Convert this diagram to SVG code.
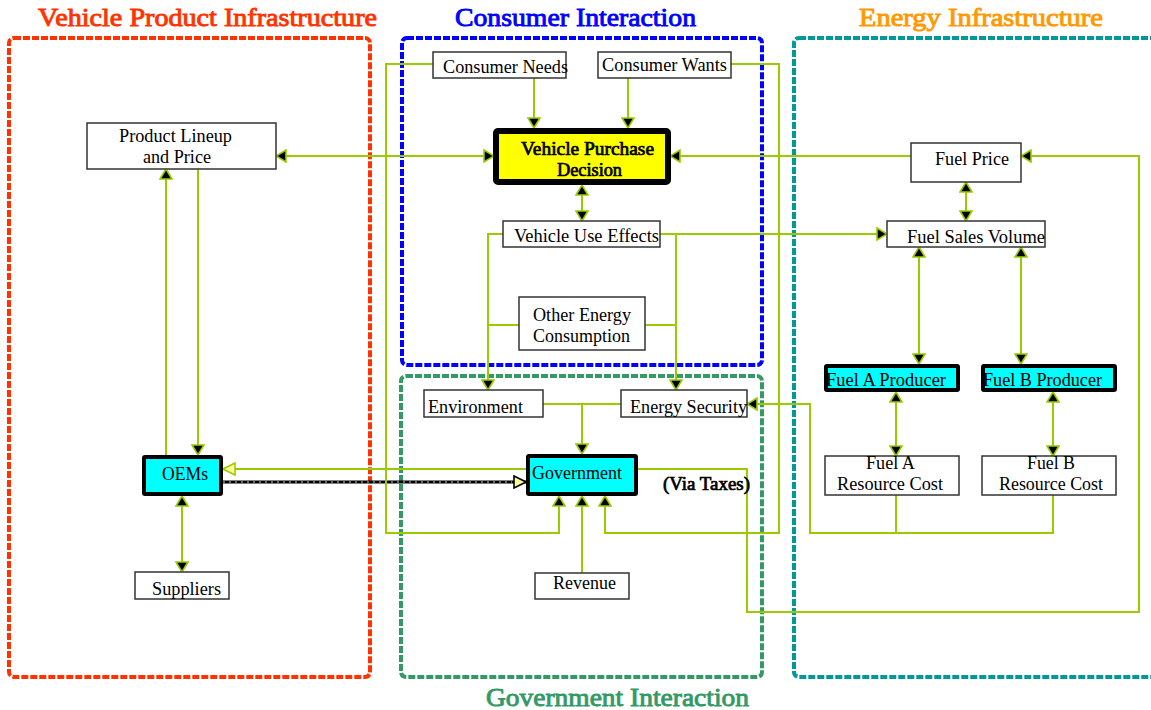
<svg xmlns="http://www.w3.org/2000/svg" width="1151" height="710" viewBox="0 0 1151 710">
  <style>
    .zone { fill: none; stroke-width: 4; stroke-dasharray: 7 2; }
    .title { font-family: "Liberation Serif", "Times New Roman", serif; font-weight: normal; font-size: 26px; stroke-width: 0.9; }
    .box { fill: #ffffff; stroke: #333333; stroke-width: 1.5; }
    .hot { fill: #00ffff; stroke: #000000; stroke-width: 4; }
    .lbl { font-family: "Liberation Serif", "Times New Roman", serif; font-size: 18px; fill: #000000; }
    .bold { stroke: #000000; stroke-width: 0.7; }
    .link { fill: none; stroke: #99cc00; stroke-width: 2; }
    .fwd { marker-end: url(#tip); }
    .both { marker-start: url(#tip); marker-end: url(#tip); }
  </style>
  <defs>
    <marker id="tip" viewBox="0 0 12 14" refX="11" refY="7" markerWidth="12" markerHeight="14" markerUnits="userSpaceOnUse" orient="auto-start-reverse">
      <path d="M1,1 L11,7 L1,13 Z" fill="#000000" stroke="#99cc00" stroke-width="1.6"/>
    </marker>
    <marker id="openTip" viewBox="0 0 14 14" refX="13" refY="7" markerWidth="14" markerHeight="14" markerUnits="userSpaceOnUse" orient="auto">
      <path d="M1,1 L13,7 L1,13 Z" fill="#ffff99" stroke="#99cc00" stroke-width="1.6"/>
    </marker>
    <marker id="openTipDark" viewBox="0 0 14 14" refX="13" refY="7" markerWidth="14" markerHeight="14" markerUnits="userSpaceOnUse" orient="auto">
      <path d="M1,1 L13,7 L1,13 Z" fill="#ffff99" stroke="#000000" stroke-width="1.6"/>
    </marker>
  </defs>

  <!-- zones -->
  <g id="zones">
    <rect class="zone" x="9" y="38" width="361" height="639" rx="5" stroke="#ff3300"/>
    <rect class="zone" x="402" y="38" width="360" height="327" rx="5" stroke="#0000ff"/>
    <rect class="zone" x="401" y="376" width="361" height="301" rx="5" stroke="#339966"/>
    <rect class="zone" x="794" y="38" width="380" height="639" rx="5" stroke="#009999"/>
    <text class="title" x="38" y="26" fill="#ff3300" stroke="#ff3300" textLength="339" lengthAdjust="spacingAndGlyphs">Vehicle Product Infrastructure</text>
    <text class="title" x="455" y="26" fill="#0000ff" stroke="#0000ff" textLength="241" lengthAdjust="spacingAndGlyphs">Consumer Interaction</text>
    <text class="title" x="859" y="26" fill="#ff9900" stroke="#ff9900" textLength="244" lengthAdjust="spacingAndGlyphs">Energy Infrastructure</text>
    <text class="title" x="486" y="706" fill="#339966" stroke="#339966" textLength="263" lengthAdjust="spacingAndGlyphs">Government Interaction</text>
  </g>

  <!-- connectors -->
  <g id="connectors">
    <path class="link both" d="M276,156 H494"/>
    <path class="link fwd" d="M534,78 V128"/>
    <path class="link fwd" d="M628,78 V128"/>
    <path class="link fwd" d="M911,156 H670"/>
    <path class="link both" d="M582,185 V221"/>
    <path class="link fwd" d="M503,234 H488 V390"/>
    <path class="link fwd" d="M660,234 H887"/>
    <path class="link fwd" d="M676,234 V390"/>
    <path class="link" d="M519,325 H488"/>
    <path class="link" d="M645,325 H676"/>
    <path class="link" d="M543,404 H621"/>
    <path class="link fwd" d="M582,404 V454"/>
    <path class="link both" d="M966,182 V221"/>
    <path class="link both" d="M919,247 V364"/>
    <path class="link both" d="M1021,247 V364"/>
    <path class="link both" d="M896,392 V456"/>
    <path class="link both" d="M1053,392 V456"/>
    <path class="link" d="M896,495 V533"/>
    <path class="link fwd" d="M1053,495 V533 H810 V404 H747"/>
    <path class="link fwd" d="M638,469 H747 V612 H1139 V156 H1021"/>
    <path class="link" d="M526,469 H223" marker-end="url(#openTip)"/>
    <path d="M223,482 H526" fill="none" stroke="#000000" stroke-width="3" marker-end="url(#openTipDark)"/>
    <path d="M223,482 H512" fill="none" stroke="#ffffff" stroke-width="0.8" stroke-dasharray="2 4"/>
    <path class="link both" d="M182,496 V572"/>
    <path class="link fwd" d="M198,169 V455"/>
    <path class="link fwd" d="M166,455 V169"/>
    <path class="link fwd" d="M433,64 H386 V533 H559 V496"/>
    <path class="link fwd" d="M731,64 H779 V533 H605 V496"/>
    <path class="link fwd" d="M582,573 V496"/>
  </g>

  <!-- consumer interaction -->
  <g id="consumer-needs">
    <rect class="box" x="433" y="52" width="133" height="26"/>
    <text class="lbl" x="443" y="73" textLength="125" lengthAdjust="spacingAndGlyphs">Consumer Needs</text>
  </g>
  <g id="consumer-wants">
    <rect class="box" x="598" y="52" width="133" height="26"/>
    <text class="lbl" x="602" y="71" textLength="125" lengthAdjust="spacingAndGlyphs">Consumer Wants</text>
  </g>
  <g id="vehicle-purchase-decision">
    <rect x="496" y="131" width="172" height="51" rx="2" fill="#ffff00" stroke="#000000" stroke-width="6"/>
    <text class="lbl bold" x="521" y="155" textLength="133" lengthAdjust="spacingAndGlyphs">Vehicle Purchase</text>
    <text class="lbl bold" x="557" y="176" textLength="65" lengthAdjust="spacingAndGlyphs">Decision</text>
  </g>
  <g id="vehicle-use-effects">
    <rect class="box" x="503" y="221" width="157" height="26"/>
    <text class="lbl" x="514" y="242" textLength="145" lengthAdjust="spacingAndGlyphs">Vehicle Use Effects</text>
  </g>
  <g id="other-energy-consumption">
    <rect class="box" x="519" y="297" width="126" height="53"/>
    <text class="lbl" x="533" y="321" textLength="98" lengthAdjust="spacingAndGlyphs">Other Energy</text>
    <text class="lbl" x="533" y="342" textLength="97" lengthAdjust="spacingAndGlyphs">Consumption</text>
  </g>

  <!-- vehicle product infrastructure -->
  <g id="product-lineup">
    <rect class="box" x="87" y="123" width="189" height="46"/>
    <text class="lbl" x="119" y="142" textLength="113" lengthAdjust="spacingAndGlyphs">Product Lineup</text>
    <text class="lbl" x="143" y="163" textLength="68" lengthAdjust="spacingAndGlyphs">and Price</text>
  </g>
  <g id="oems">
    <rect class="hot" x="144" y="457" width="77" height="37" rx="1"/>
    <text class="lbl" x="162" y="480" textLength="46" lengthAdjust="spacingAndGlyphs">OEMs</text>
  </g>
  <g id="suppliers">
    <rect class="box" x="135" y="572" width="94" height="27"/>
    <text class="lbl" x="152" y="595" textLength="69" lengthAdjust="spacingAndGlyphs">Suppliers</text>
  </g>

  <!-- government interaction -->
  <g id="environment">
    <rect class="box" x="424" y="390" width="119" height="27"/>
    <text class="lbl" x="428" y="413" textLength="95" lengthAdjust="spacingAndGlyphs">Environment</text>
  </g>
  <g id="energy-security">
    <rect class="box" x="621" y="390" width="126" height="27"/>
    <text class="lbl" x="630" y="413" textLength="117" lengthAdjust="spacingAndGlyphs">Energy Security</text>
  </g>
  <g id="government">
    <rect class="hot" x="528" y="456" width="108" height="38" rx="1"/>
    <text class="lbl" x="532" y="479" textLength="90" lengthAdjust="spacingAndGlyphs">Government</text>
  </g>
  <g id="via-taxes">
    <text class="lbl bold" x="663" y="490" textLength="87" lengthAdjust="spacingAndGlyphs">(Via Taxes)</text>
  </g>
  <g id="revenue">
    <rect class="box" x="535" y="573" width="94" height="26"/>
    <text class="lbl" x="553" y="589" textLength="63" lengthAdjust="spacingAndGlyphs">Revenue</text>
  </g>

  <!-- energy infrastructure -->
  <g id="fuel-price">
    <rect class="box" x="911" y="143" width="110" height="39"/>
    <text class="lbl" x="935" y="165" textLength="74" lengthAdjust="spacingAndGlyphs">Fuel Price</text>
  </g>
  <g id="fuel-sales-volume">
    <rect class="box" x="887" y="221" width="158" height="26"/>
    <text class="lbl" x="907" y="243" textLength="138" lengthAdjust="spacingAndGlyphs">Fuel Sales Volume</text>
  </g>
  <g id="fuel-a-producer">
    <rect class="hot" x="826" y="366" width="132" height="24" rx="1"/>
    <text class="lbl" x="826" y="386" textLength="120" lengthAdjust="spacingAndGlyphs">Fuel A Producer</text>
  </g>
  <g id="fuel-b-producer">
    <rect class="hot" x="983" y="366" width="132" height="24" rx="1"/>
    <text class="lbl" x="983" y="386" textLength="119" lengthAdjust="spacingAndGlyphs">Fuel B Producer</text>
  </g>
  <g id="fuel-a-resource-cost">
    <rect class="box" x="825" y="456" width="134" height="39"/>
    <text class="lbl" x="866" y="469" textLength="49" lengthAdjust="spacingAndGlyphs">Fuel A</text>
    <text class="lbl" x="837" y="490" textLength="106" lengthAdjust="spacingAndGlyphs">Resource Cost</text>
  </g>
  <g id="fuel-b-resource-cost">
    <rect class="box" x="982" y="456" width="134" height="39"/>
    <text class="lbl" x="1027" y="469" textLength="48" lengthAdjust="spacingAndGlyphs">Fuel B</text>
    <text class="lbl" x="999" y="490" textLength="104" lengthAdjust="spacingAndGlyphs">Resource Cost</text>
  </g>
</svg>
